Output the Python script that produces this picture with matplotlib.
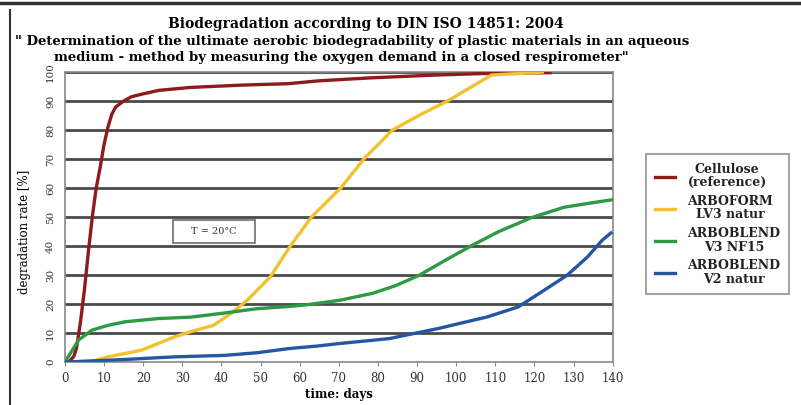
import matplotlib
matplotlib.use("Agg")
import matplotlib.pyplot as plt
from matplotlib.patches import Rectangle

# ---------------------------------------------------------------
#   Data
# ---------------------------------------------------------------

cellulose_days = [0, 1, 2.3, 3, 4, 5, 6, 7, 8, 9, 10, 11, 12, 13, 15, 17, 20, 24, 32, 45, 57, 65, 78, 95, 107, 124]
cellulose_rate = [0, 0, 2, 5, 14, 25, 38, 50, 60, 67, 75, 81, 85.5, 88, 90, 91.5, 92.5, 93.7, 94.7, 95.5, 96, 97, 98, 99, 99.5, 99.8]

arboform_days = [4, 5, 11, 19.6, 28, 32, 38, 42.4, 46.6, 52.5, 57.5, 63, 70.6, 76.5, 83.7, 90.4, 98, 104, 109, 116, 122]
arboform_rate = [0, -0.5, 1.8, 4.1, 8.7, 10.4, 12.7, 16.7, 21.3, 29.4, 39.8, 50, 60.2, 70.2, 80, 85, 90.2, 95, 99, 99.5, 100]

v3_days = [0, 1.9, 3.5, 6.9, 11.1, 15.4, 23.8, 32.2, 40.7, 49, 57.5, 62, 70.2, 78.6, 84.6, 90.5, 97.2, 104, 110.7, 119.2, 127.6, 136, 140]
v3_rate = [0, 4.1, 7.6, 11, 12.7, 13.9, 15, 15.5, 16.9, 18.4, 19.2, 19.8, 21.3, 23.7, 26.4, 29.9, 35.1, 40.2, 44.9, 49.8, 53.4, 55.2, 56]

v2_days = [0, 6.9, 15.4, 28, 40.7, 49, 57.5, 64.3, 70.2, 82.9, 95.5, 108, 115.8, 122.5, 128.4, 133.5, 137.3, 139.5]
v2_rate = [0, 0.4, 0.9, 1.8, 2.3, 3.2, 4.7, 5.5, 6.4, 8.1, 11.6, 15.6, 19, 24.8, 30, 36.2, 42, 44.5]

series_labels = ["Cellulose\n(reference)", "ARBOFORM\nLV3 natur", "ARBOBLEND\nV3 NF15", "ARBOBLEND\nV2 natur"]
series_colors = ["#8e1b1b", "#f2c12e", "#2e9a44", "#2456a4"]

x_ticks = list(range(0, 141, 10))
y_ticks = list(range(0, 101, 10))

# ---------------------------------------------------------------
#   Plot
# ---------------------------------------------------------------

# the picture's lettering is wide, DejaVu Serif comes closest
plt.rcParams["font.family"] = ["DejaVu Serif"]

fig = plt.figure(figsize=(8.01, 4.05), dpi=100)
ax = fig.add_axes([0.081, 0.106, 0.684, 0.716])

for yv in y_ticks[1:]:
    ax.axhline(yv, color="#4a4a4a", lw=2.0, zorder=1)

data = [(cellulose_days, cellulose_rate), (arboform_days, arboform_rate),
        (v3_days, v3_rate), (v2_days, v2_rate)]
handles = []
for (xs, ys), lab, col in zip(data, series_labels, series_colors):
    h, = ax.plot(xs, ys, color=col, lw=2.4, label=lab, zorder=3)
    handles.append(h)

ax.set_xlim(0, 140)
ax.set_ylim(0, 100)
ax.set_xticks(x_ticks)
ax.set_yticks(y_ticks)
ax.tick_params(axis="x", labelsize=8.5, length=3, color="#888888", colors="#333333", pad=4)
ax.tick_params(axis="y", labelsize=7.5, length=0, colors="#333333", labelrotation=90, pad=7)
for lab in ax.get_yticklabels():
    lab.set_va("center")
for s in ax.spines.values():
    s.set_color("#888888")
    s.set_linewidth(1.2)

ax.set_xlabel("time: days", fontsize=8.5, fontweight="bold", labelpad=2)
ax.set_ylabel("degradation rate [%]", fontsize=8.5)
ax.yaxis.set_label_coords(-0.062, 0.45)

# temperature box
ax.add_patch(Rectangle((27.5, 41), 21, 8, facecolor="white", edgecolor="#777777", lw=1.3, zorder=4))
ax.text(38, 45, "T = 20°C", ha="center", va="center", fontsize=7, color="#333333", zorder=5)

leg = fig.legend(handles=handles, loc="upper left", bbox_to_anchor=(0.799, 0.635),
                 frameon=True, fancybox=False, edgecolor="#777777", fontsize=9,
                 handlelength=1.6, handletextpad=1.0, labelspacing=0.45, borderpad=0.7)
leg.get_frame().set_linewidth(1.2)
for t in leg.get_texts():
    t.set_fontweight("bold")
    t.set_ha("center")
    t.set_color("#222222")
    t.set_linespacing(1.05)

fig.text(0.457, 0.94, "Biodegradation according to DIN ISO 14851: 2004",
         ha="center", va="center", fontsize=10, fontweight="bold")
fig.text(0.44, 0.898, "\" Determination of the ultimate aerobic biodegradability of plastic materials in an aqueous",
         ha="center", va="center", fontsize=9.5, fontweight="bold")
fig.text(0.426, 0.859, "medium - method by measuring the oxygen demand in a closed respirometer\"",
         ha="center", va="center", fontsize=9.5, fontweight="bold")

# outer frame of the picture
fig.add_artist(plt.Line2D([0.0, 1.0], [0.992, 0.992], color="#333333", lw=2.5))
fig.add_artist(plt.Line2D([0.013, 0.013], [0.0, 0.975], color="#333333", lw=1.5))

fig.savefig("out.png", dpi=100)
